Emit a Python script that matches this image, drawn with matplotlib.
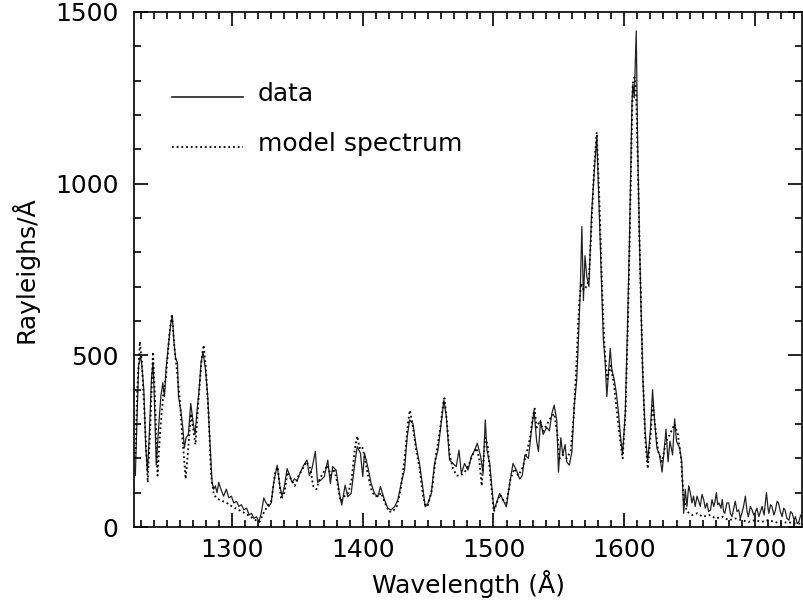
import matplotlib
matplotlib.use('Agg')
import matplotlib.pyplot as plt
from matplotlib.ticker import MultipleLocator

# Espectro observado (longitud de onda en Å, brillo en Rayleighs/Å)
wl_data = [1226.0, 1227.2, 1228.5, 1230.0, 1231.0, 1232.5, 1234.0, 1235.3, 1236.8, 1238.3,
           1239.5, 1240.5, 1242.0, 1243.8, 1245.5, 1247.0, 1248.3, 1249.5, 1251.3, 1253.0,
           1254.3, 1255.5, 1256.8, 1258.2, 1259.0, 1260.8, 1262.3, 1263.5, 1264.8, 1266.6,
           1268.4, 1270.4, 1271.7, 1273.0, 1274.8, 1276.3, 1277.8, 1279.6, 1281.4, 1282.9,
           1284.7, 1286.0, 1287.2, 1288.5, 1289.8, 1291.5, 1293.5, 1295.6, 1297.5, 1299.5,
           1301.3, 1303.4, 1305.2, 1307.2, 1309.0, 1311.1, 1313.1, 1314.9, 1316.7, 1318.7,
           1320.5, 1322.3, 1324.3, 1326.0, 1328.1, 1329.9, 1331.9, 1334.5, 1336.5, 1338.3,
           1340.1, 1342.1, 1344.1, 1345.9, 1347.7, 1349.8, 1352.3, 1354.8, 1357.3, 1359.1,
           1361.1, 1363.7, 1365.4, 1367.5, 1370.6, 1373.2, 1375.2, 1377.0, 1379.6, 1382.1,
           1383.9, 1386.5, 1388.5, 1391.1, 1393.6, 1395.7, 1398.2, 1400.0, 1401.3, 1403.8,
           1406.4, 1408.9, 1411.5, 1413.5, 1416.6, 1419.2, 1421.7, 1424.3, 1426.8, 1429.4,
           1431.9, 1434.0, 1435.8, 1438.3, 1440.9, 1443.4, 1445.5, 1447.8, 1449.8, 1452.4,
           1454.9, 1457.5, 1460.0, 1462.1, 1463.9, 1466.4, 1469.0, 1471.5, 1473.6, 1475.4,
           1477.9, 1480.5, 1483.0, 1485.6, 1487.6, 1490.2, 1492.0, 1493.7, 1495.0, 1497.1,
           1498.9, 1500.4, 1502.2, 1504.7, 1507.3, 1509.8, 1512.4, 1514.9, 1517.5, 1520.0,
           1522.0, 1524.0, 1526.7, 1529.0, 1531.0, 1533.0, 1534.4, 1536.0, 1538.0, 1540.7,
           1542.8, 1544.6, 1546.4, 1548.4, 1549.7, 1551.5, 1553.0, 1554.8, 1556.0, 1558.0,
           1560.0, 1561.7, 1563.7, 1565.0, 1566.3, 1567.6, 1568.8, 1570.0, 1571.4, 1573.0,
           1575.0, 1577.0, 1579.0, 1580.8, 1582.4, 1584.0, 1585.4, 1586.7, 1588.0, 1589.3,
           1590.5, 1592.3, 1594.0, 1595.7, 1597.0, 1598.7, 1600.8, 1602.5, 1604.0, 1605.9,
           1606.6, 1607.7, 1609.2, 1610.2, 1611.7, 1612.8, 1614.3, 1616.0, 1617.9, 1620.0,
           1621.7, 1623.2, 1625.0, 1627.0, 1629.0, 1630.7, 1632.0, 1633.5, 1635.0, 1637.0,
           1638.6, 1640.0, 1642.4, 1644.0, 1645.5, 1646.7, 1648.0, 1649.3, 1650.6, 1651.8,
           1653.0, 1654.3, 1655.7, 1657.0, 1658.2, 1659.5, 1660.8, 1662.0, 1663.3, 1664.6,
           1666.0, 1667.2, 1668.5, 1669.5, 1670.5, 1671.5, 1672.5, 1674.0, 1675.0, 1676.0,
           1677.0, 1678.5, 1680.0, 1681.2, 1682.5, 1683.8, 1685.0, 1686.3, 1687.6, 1688.8,
           1690.0, 1691.3, 1692.7, 1694.0, 1695.0, 1696.5, 1697.8, 1699.0, 1700.0, 1701.5,
           1703.0, 1704.2, 1705.5, 1707.0, 1708.8, 1710.0, 1710.6, 1712.0, 1713.0, 1714.5,
           1715.7, 1717.0, 1718.0, 1719.5, 1720.8, 1722.0, 1723.0, 1724.5, 1726.0, 1727.3,
           1728.5, 1730.0, 1731.0, 1732.3, 1733.6, 1735.0, 1736.0]
flux_data = [150, 300, 470, 500, 470, 400, 230, 160, 280, 430,
             480, 380, 180, 290, 380, 420, 380, 460, 530, 590,
             615, 540, 490, 480, 380, 340, 290, 230, 260, 270,
             360, 300, 270, 330, 400, 480, 510, 460, 380, 260,
             130, 110, 120, 100, 130, 110, 90, 110, 85, 90,
             70, 75, 60, 65, 50, 55, 35, 40, 25, 30,
             15, 40, 85, 70, 60, 70, 130, 180, 120, 90,
             120, 170, 150, 130, 140, 135, 160, 180, 195, 150,
             170, 220, 130, 135, 147, 195, 127, 176, 166, 98,
             64, 122, 88, 98, 176, 234, 215, 147, 215, 176,
             127, 98, 88, 118, 79, 54, 50, 59, 79, 127,
             166, 263, 312, 302, 234, 185, 127, 59, 69, 98,
             185, 224, 302, 370, 321, 195, 185, 176, 224, 156,
             185, 166, 205, 224, 244, 205, 156, 312, 224, 185,
             108, 50, 69, 98, 79, 59, 127, 185, 166, 140,
             150, 210, 200, 280, 340, 250, 220, 310, 270, 290,
             280, 330, 355, 310, 160, 260, 210, 240, 190, 180,
             220, 350, 430, 550, 680, 875, 660, 790, 730, 700,
             910, 1030, 1140, 930, 750, 550, 480, 380, 450, 520,
             460, 430, 390, 330, 270, 210, 330, 580, 830, 1230,
             1290, 1250, 1445, 1130, 830, 650, 430, 280, 190, 280,
             400, 310, 230, 210, 160, 230, 285, 190, 250, 210,
             315, 250, 230, 190, 40, 110, 60, 120, 100, 70,
             90, 60, 90, 75, 60, 95, 80, 55, 70, 45,
             50, 80, 60, 75, 100, 65, 70, 55, 80, 45,
             40, 70, 70, 40, 30, 55, 75, 45, 50, 25,
             40, 60, 90, 45, 30, 60, 50, 35, 40, 55,
             30, 45, 60, 35, 100, 55, 40, 65, 60, 35,
             50, 75, 70, 45, 30, 55, 50, 25, 20, 45,
             40, 20, 30, 10, 15, 35, 30]

# Espectro del modelo
wl_model = [1226, 1227.5, 1229.5, 1231, 1233, 1235.5, 1237.5, 1239.5, 1241, 1243,
            1245, 1247.5, 1249.5, 1252, 1254, 1256, 1258, 1260, 1262, 1264.5,
            1266.5, 1268.5, 1270.5, 1272, 1274.5, 1277, 1278.3, 1280, 1282, 1284,
            1286, 1288, 1290, 1293, 1296, 1300, 1305, 1310, 1314, 1318,
            1321, 1324, 1327, 1330, 1333, 1335, 1337.5, 1340, 1342.5, 1345,
            1348, 1351, 1354, 1357, 1360, 1362, 1364.5, 1367, 1370, 1373,
            1375.5, 1378, 1380.5, 1383, 1386, 1389, 1391.5, 1394, 1395.8, 1397.5,
            1399.5, 1401.5, 1404, 1406.5, 1409, 1412, 1414, 1417, 1420, 1423,
            1426, 1429, 1432, 1434.5, 1436, 1438, 1441, 1443.5, 1446, 1448,
            1450, 1453, 1456, 1459, 1461.5, 1462.5, 1464, 1466.5, 1469, 1472,
            1475, 1478, 1481, 1484, 1487, 1489, 1491, 1493.5, 1495.5, 1498,
            1500.3, 1502.5, 1505, 1508, 1510, 1513, 1516, 1519, 1522, 1525,
            1528, 1530, 1531.5, 1533, 1535.5, 1538, 1541, 1544, 1546.5, 1548.5,
            1550.5, 1553, 1556, 1559, 1561.5, 1563.5, 1565.5, 1567, 1569, 1571,
            1573, 1575, 1577, 1579, 1581, 1583, 1585, 1587, 1589.5, 1592,
            1594.5, 1597, 1598.8, 1601, 1603, 1605, 1606.5, 1607.8, 1609, 1610.5,
            1612, 1614, 1616, 1618, 1620, 1621.8, 1623.5, 1626, 1629, 1632,
            1635, 1638.5, 1641, 1643.5, 1645.5, 1648, 1652, 1656, 1660, 1665,
            1670, 1675, 1680, 1685, 1690, 1695, 1700, 1705, 1710, 1715,
            1720, 1725, 1730, 1736]
flux_model = [200, 400, 540, 480, 330, 130, 300, 510, 380, 150,
              280, 390, 440, 560, 620, 520, 450, 370, 260, 140,
              230, 330, 280, 240, 380, 500, 530, 460, 330, 150,
              95, 85, 80, 75, 70, 60, 50, 40, 30, 20,
              15, 40, 60, 75, 160, 175, 80, 100, 160, 140,
              120, 150, 170, 190, 170, 120, 110, 140, 160, 180,
              150, 170, 130, 75, 90, 100, 140, 230, 265, 230,
              235, 200, 150, 110, 90, 90, 100, 70, 45, 45,
              60, 110, 200, 300, 340, 300, 220, 170, 90, 60,
              65, 110, 210, 280, 360, 375, 320, 210, 170, 150,
              150, 160, 180, 210, 230, 200, 120, 260, 240, 130,
              45, 70, 95, 75, 70, 140, 170, 150, 170, 210,
              260, 320, 345, 290, 310, 280, 300, 320, 330, 280,
              200, 210, 200, 220, 330, 480, 650, 710, 690, 700,
              720, 880, 1050, 1150, 950, 700, 520, 430, 470, 420,
              330, 250, 200, 340, 620, 1000, 1290, 1310, 1280, 1050,
              780, 470, 260, 170, 260, 360, 300, 220, 190, 250,
              270, 300, 270, 200, 80, 45, 35, 40, 30, 35,
              25, 30, 20, 25, 20, 15, 20, 15, 20, 15,
              10, 15, 10, 10]

plt.rcParams['font.family'] = 'DejaVu Sans'

fig = plt.figure(figsize=(8.04, 6.09), dpi=100)
ax = fig.add_axes([0.1667, 0.1346, 0.8308, 0.8457])

ax.plot(wl_data, flux_data, color='#222222', lw=0.9)
ax.plot(wl_model, flux_model, color='black', lw=1.3, linestyle=(0, (1, 1.6)))

ax.set_xlim(1225, 1736)
ax.set_ylim(0, 1500)

ax.xaxis.set_major_locator(MultipleLocator(100))
ax.xaxis.set_minor_locator(MultipleLocator(10))
ax.yaxis.set_major_locator(MultipleLocator(500))
ax.yaxis.set_minor_locator(MultipleLocator(100))
ax.tick_params(which='both', direction='in', top=True, right=True, width=1.2)
ax.tick_params(which='major', length=10, labelsize=18)
ax.tick_params(axis='x', which='major', pad=8)
ax.tick_params(axis='y', which='major', pad=11)
ax.tick_params(which='minor', length=5)
for s in ax.spines.values():
    s.set_linewidth(1.2)

ax.set_xlabel('Wavelength (Å)', fontsize=18, labelpad=6)
ax.set_ylabel('Rayleighs/Å', fontsize=18, labelpad=12)

# Leyenda dibujada a mano, como en IDL
ax.plot([0.057, 0.163], [0.835, 0.835], transform=ax.transAxes, color='#222222', lw=1.2)
ax.plot([0.057, 0.163], [0.738, 0.738], transform=ax.transAxes, color='black', lw=1.3,
        linestyle=(0, (1, 1.6)))
ax.text(0.185, 0.840, 'data', transform=ax.transAxes, fontsize=18, va='center')
ax.text(0.185, 0.743, 'model spectrum', transform=ax.transAxes, fontsize=18, va='center')

plt.savefig('out.png', dpi=100)
